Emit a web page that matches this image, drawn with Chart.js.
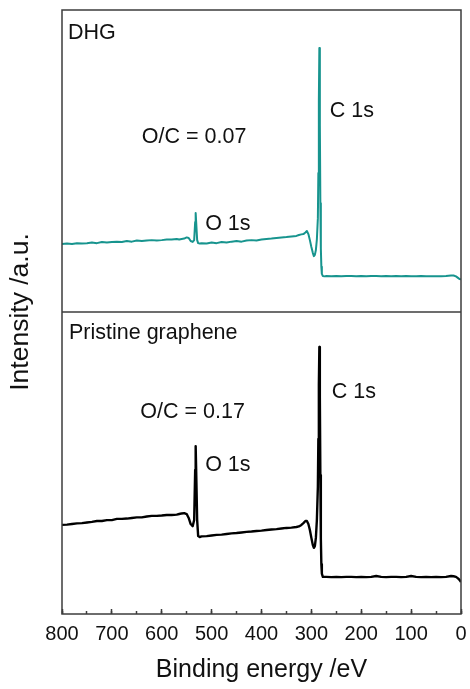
<!DOCTYPE html>
<html>
<head>
<meta charset="utf-8">
<script src="https://cdn.jsdelivr.net/npm/chart.js@4/dist/chart.umd.min.js"></script>
<style>
  html, body { margin: 0; padding: 0; background: #fff; }
  #wrap { width: 470px; height: 689px; }
</style>
</head>
<body>
<div id="wrap"><canvas id="xps" width="470" height="689"></canvas></div>
<script>
/* ─── XPS survey: DHG vs pristine graphene ─────────────────────── */

// binding energy (eV), shared by both spectra
const energy = [
    800, 790, 780, 770, 760, 750, 740, 730, 720, 710,
    700, 690, 680, 670, 660, 650, 640, 630, 620, 610,
    600, 590, 580, 570, 565, 560, 555, 550, 546, 542,
    538, 535, 533, 532, 531, 529, 527, 524, 520, 510,
    500, 490, 480, 470, 460, 450, 440, 430, 420, 410,
    400, 390, 380, 370, 360, 350, 340, 330, 325, 320,
    316, 312, 309, 306, 303, 300, 297, 295, 293, 291,
    289, 287, 286, 285, 284, 283, 282, 281, 280, 279,
    277, 274, 270, 260, 250, 240, 230, 220, 210, 200,
    190, 180, 170, 160, 150, 140, 130, 120, 110, 100,
    90, 80, 70, 60, 50, 40, 30, 20, 15, 10,
    6, 3, 0
];

// intensity (a.u.), top panel
const dhg = [
    22.5, 22.7, 22.5, 22.8, 22.7, 22.8, 23.0, 22.8, 23.2, 23.0,
    23.2, 23.3, 23.2, 23.5, 23.3, 23.7, 23.5, 23.7, 23.8, 23.7,
    23.8, 24.0, 24.0, 24.2, 24.0, 24.2, 24.3, 24.7, 24.5, 23.5,
    23.2, 23.8, 29.8, 32.8, 29.8, 23.8, 22.8, 22.7, 22.8, 22.7,
    23.0, 22.8, 23.2, 23.0, 23.3, 23.5, 23.3, 23.7, 23.8, 23.7,
    24.0, 24.2, 24.3, 24.5, 24.7, 24.8, 25.0, 25.2, 25.5, 25.7,
    25.8, 26.3, 26.8, 25.8, 23.8, 21.5, 19.5, 18.5, 18.9, 20.5,
    24.0, 31.0, 46.0, 70.0, 87.4, 62.0, 36.0, 21.0, 15.0, 12.6,
    11.9, 11.8, 11.9, 11.8, 11.9, 11.8, 11.9, 11.9, 11.8, 11.9,
    11.8, 11.9, 11.9, 11.8, 11.9, 11.8, 11.9, 11.8, 11.9, 11.8,
    11.8, 11.9, 11.8, 11.8, 11.8, 11.8, 11.9, 12.1, 12.1, 11.8,
    11.3, 10.9, 10.8
];

// intensity (a.u.), bottom panel
const pristine = [
    29.5, 29.6, 29.8, 30.0, 30.1, 30.3, 30.5, 30.8, 30.8, 31.1,
    31.1, 31.5, 31.5, 31.6, 31.8, 32.0, 32.0, 32.3, 32.5, 32.5,
    32.6, 32.8, 32.8, 32.9, 33.1, 33.3, 33.4, 33.1, 31.8, 29.8,
    29.1, 31.1, 47.7, 55.6, 47.7, 31.1, 25.8, 25.5, 25.7, 25.8,
    26.0, 26.2, 26.3, 26.5, 26.7, 26.8, 27.0, 27.2, 27.3, 27.5,
    27.6, 27.8, 28.0, 28.1, 28.3, 28.5, 28.6, 28.8, 29.0, 29.5,
    30.1, 30.8, 30.8, 29.8, 27.8, 25.2, 22.8, 21.9, 22.5, 25.2,
    31.0, 42.0, 58.0, 76.0, 88.4, 72.0, 46.0, 25.0, 16.5, 13.4,
    12.3, 12.3, 12.3, 12.2, 12.3, 12.2, 12.3, 12.3, 12.2, 12.3,
    12.2, 12.3, 12.6, 12.3, 12.2, 12.3, 12.3, 12.2, 12.3, 12.6,
    12.3, 12.2, 12.3, 12.2, 12.3, 12.2, 12.3, 12.6, 12.5, 12.3,
    11.8, 11.3, 10.6
];

const xMin = 0;
const xMax = 800;
const majorStep = 100;
const minorStep = 50;

// text labels placed in data coordinates
const notes = [
    { text: 'DHG',               x: 788, y: 92.4, axis: 'yTop' },
    { text: 'C 1s',              x: 263, y: 66.6, axis: 'yTop' },
    { text: 'O/C = 0.07',        x: 640, y: 57.8, axis: 'yTop' },
    { text: 'O 1s',              x: 513, y: 29.2, axis: 'yTop' },
    { text: 'Pristine graphene', x: 786, y: 93.0, axis: 'yBot' },
    { text: 'C 1s',              x: 259, y: 73.5, axis: 'yBot' },
    { text: 'O/C = 0.17',        x: 643, y: 66.9, axis: 'yBot' },
    { text: 'O 1s',              x: 513, y: 49.2, axis: 'yBot' }
];

const FONT = '"Liberation Sans", Arial, sans-serif';
const INK = '#111111';
const FRAME = '#3c3c3c';

const toPoints = vals => energy.map((e, i) => ({ x: e, y: vals[i] }));

// box + panel divider
const framePlugin = {
    id: 'panelFrame',
    afterDatasetsDraw(chart) {
        const { ctx, chartArea: a, scales } = chart;
        ctx.save();
        ctx.strokeStyle = FRAME;
        ctx.lineWidth = 1.5;
        ctx.strokeRect(a.left, a.top, a.right - a.left, a.bottom - a.top);
        const yDiv = scales.yTop.bottom;
        ctx.beginPath();
        ctx.moveTo(a.left, yDiv);
        ctx.lineTo(a.right, yDiv);
        ctx.stroke();
        ctx.restore();
    }
};

const notesPlugin = {
    id: 'notes',
    afterDraw(chart) {
        const { ctx, scales } = chart;
        ctx.save();
        ctx.fillStyle = INK;
        ctx.font = '21.5px ' + FONT;
        ctx.textAlign = 'left';
        ctx.textBaseline = 'middle';
        notes.forEach(n => {
            ctx.fillText(n.text, scales.x.getPixelForValue(n.x), scales[n.axis].getPixelForValue(n.y));
        });
        ctx.restore();
    }
};

const panelAxis = (weight) => ({
    type: 'linear',
    position: 'left',
    stack: 'panels',
    stackWeight: 1,
    weight: weight,
    min: 0,
    max: 100,
    ticks: { display: false },
    grid: { display: false },
    border: { display: false },
    afterFit: s => { s.width = 0; }
});

new Chart(document.getElementById('xps'), {
    type: 'line',
    data: {
        datasets: [
            {
                label: 'DHG',
                data: toPoints(dhg),
                yAxisID: 'yTop',
                borderColor: '#17948e',
                borderWidth: 2,
                borderJoinStyle: 'round',
                pointRadius: 0,
                tension: 0
            },
            {
                label: 'Pristine graphene',
                data: toPoints(pristine),
                yAxisID: 'yBot',
                borderColor: '#000000',
                borderWidth: 2.4,
                borderJoinStyle: 'round',
                pointRadius: 0,
                tension: 0
            }
        ]
    },
    options: {
        responsive: false,
        animation: false,
        layout: { padding: { left: 4, right: 9, top: 10, bottom: 0 } },
        plugins: {
            legend: { display: false },
            tooltip: { enabled: false }
        },
        scales: {
            x: {
                type: 'linear',
                position: 'bottom',
                reverse: true,
                min: xMin,
                max: xMax,
                ticks: {
                    stepSize: majorStep,
                    color: INK,
                    padding: 13,
                    maxRotation: 0,
                    font: { family: FONT, size: 20 }
                },
                grid: {
                    drawOnChartArea: false,
                    tickLength: -5,
                    tickColor: FRAME,
                    tickWidth: 1.5
                },
                border: { display: false },
                title: {
                    display: true,
                    text: 'Binding energy /eV',
                    color: INK,
                    padding: { top: 0, bottom: 4 },
                    font: { family: FONT, size: 25 }
                },
                afterFit: s => {
                    s.height = 75;
                    s.paddingLeft = 0;
                    s.paddingRight = 0;
                }
            },
            xMinor: {
                type: 'linear',
                position: { yBot: 0 },
                reverse: true,
                min: xMin,
                max: xMax,
                ticks: { display: false, stepSize: minorStep },
                grid: {
                    drawOnChartArea: false,
                    tickLength: -3,
                    tickColor: FRAME,
                    tickWidth: 1.5
                },
                border: { display: false }
            },
            yTitle: {
                type: 'linear',
                position: 'left',
                weight: 10,
                ticks: { display: false },
                grid: { display: false },
                border: { display: false },
                title: {
                    display: true,
                    text: 'Intensity /a.u.',
                    color: INK,
                    padding: { top: 1, bottom: 0 },
                    font: { family: FONT, size: 26.5 }
                },
                afterFit: s => { s.width = 58; }
            },
            yTop: panelAxis(2),
            yBot: panelAxis(1)
        }
    },
    plugins: [framePlugin, notesPlugin]
});
</script>
</body>
</html>
